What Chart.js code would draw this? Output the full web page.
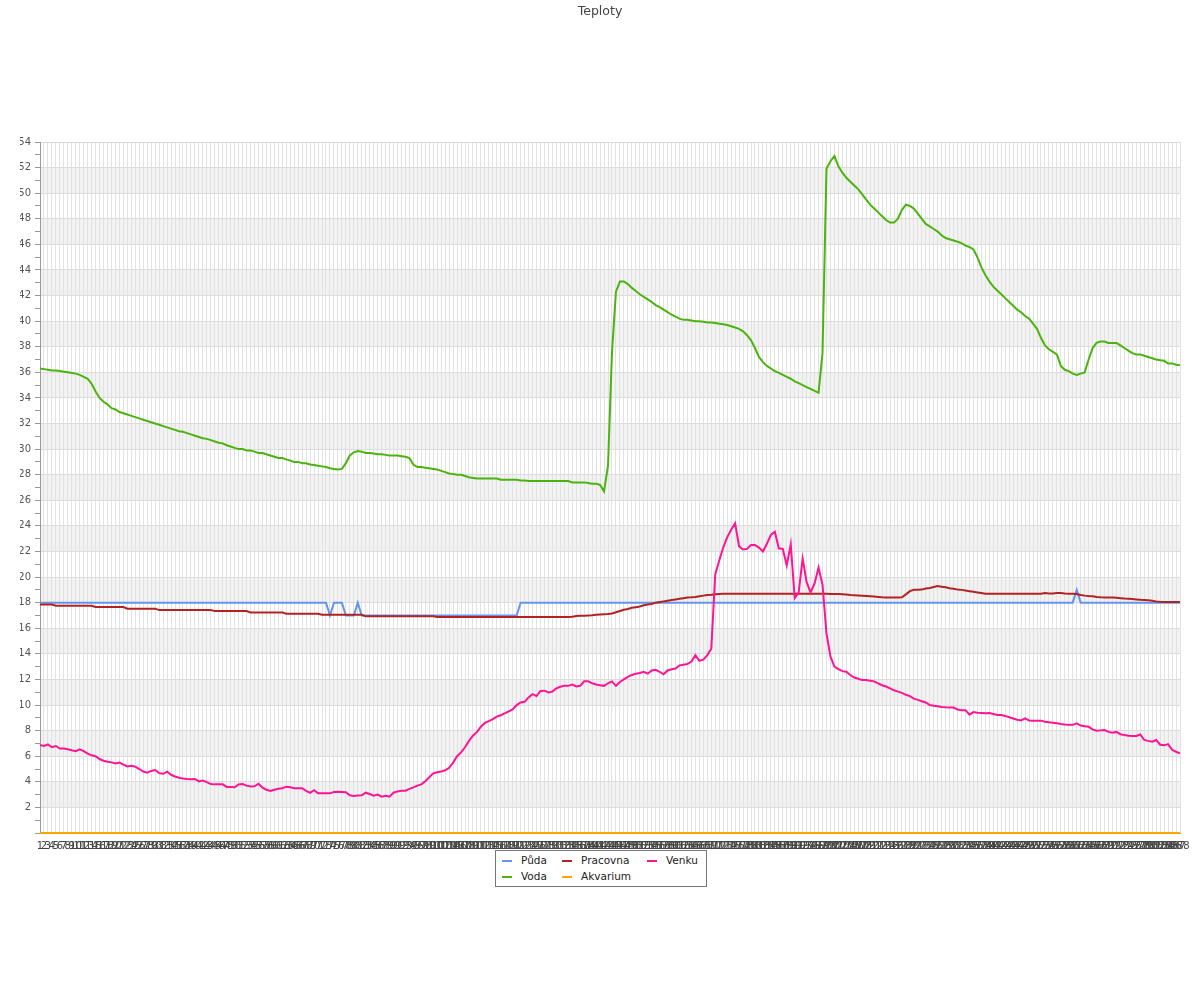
<!DOCTYPE html>
<html>
<head>
<meta charset="utf-8">
<title>Teploty</title>
<script src="https://cdn.jsdelivr.net/npm/chart.js@4.4.1/dist/chart.umd.min.js"></script>
<style>
  body { margin: 0; background: #fff; font-family: "DejaVu Sans", sans-serif; }
  #wrap { position: relative; width: 1200px; height: 1000px; }
  #legend { position: absolute; left: 495px; top: 850px; width: 210px; height: 35px;
            border: 1px solid #777; background: #fff; font-size: 10.5px; color: #222; }
  .item { position: absolute; white-space: nowrap; line-height: 14px; }
  .item i { display: inline-block; width: 10px; height: 2px; vertical-align: middle; margin-right: 9px; }
</style>
</head>
<body>
<div id="wrap">
  <canvas id="chart" width="1200" height="1000"></canvas>
  <div id="legend"></div>
</div>
<script>
// casove body 1..288 (5 min kroky)
const categories = Array.from({ length: 288 }, (_, i) => String(i + 1));

const puda = [
  18,18,18,18,18,18,18,18,18,18, 18,18,18,18,18,18,18,18,18,18,
  18,18,18,18,18,18,18,18,18,18, 18,18,18,18,18,18,18,18,18,18,
  18,18,18,18,18,18,18,18,18,18, 18,18,18,18,18,18,18,18,18,18,
  18,18,18,18,18,18,18,18,18,18, 18,18,18,17,18,18,18,17,17,17,
  18,17,17,17,17,17,17,17,17,17, 17,17,17,17,17,17,17,17,17,17,
  17,17,17,17,17,17,17,17,17,17, 17,17,17,17,17,17,17,17,17,17,
  17,18,18,18,18,18,18,18,18,18, 18,18,18,18,18,18,18,18,18,18,
  18,18,18,18,18,18,18,18,18,18, 18,18,18,18,18,18,18,18,18,18,
  18,18,18,18,18,18,18,18,18,18, 18,18,18,18,18,18,18,18,18,18,
  18,18,18,18,18,18,18,18,18,18, 18,18,18,18,18,18,18,18,18,18,
  18,18,18,18,18,18,18,18,18,18, 18,18,18,18,18,18,18,18,18,18,
  18,18,18,18,18,18,18,18,18,18, 18,18,18,18,18,18,18,18,18,18,
  18,18,18,18,18,18,18,18,18,18, 18,18,18,18,18,18,18,18,18,18,
  18,19,18,18,18,18,18,18,18,18, 18,18,18,18,18,18,18,18,18,18,
  18,18,18,18,18,18,18,18
];

const voda = [
  36.3,36.25,36.2,36.15,36.15,36.1,36.05,36.0,35.95,35.9,
  35.8,35.65,35.5,35.1,34.5,34.0,33.7,33.5,33.2,33.1,
  32.9,32.8,32.7,32.6,32.5,32.4,32.3,32.2,32.1,32.0,
  31.9,31.8,31.7,31.6,31.5,31.4,31.35,31.25,31.15,31.05,
  30.95,30.85,30.8,30.7,30.6,30.5,30.45,30.3,30.2,30.1,
  30.0,30.0,29.9,29.9,29.8,29.7,29.7,29.6,29.5,29.4,
  29.3,29.3,29.2,29.1,29.0,29.0,28.9,28.9,28.8,28.75,
  28.7,28.65,28.6,28.5,28.45,28.4,28.45,28.9,29.5,29.75,
  29.85,29.8,29.7,29.7,29.65,29.6,29.6,29.55,29.5,29.5,
  29.5,29.45,29.4,29.3,28.8,28.6,28.6,28.55,28.5,28.45,
  28.4,28.3,28.2,28.1,28.05,28.0,28.0,27.9,27.8,27.75,
  27.7,27.7,27.7,27.7,27.7,27.7,27.6,27.6,27.6,27.6,
  27.6,27.55,27.55,27.5,27.5,27.5,27.5,27.5,27.5,27.5,
  27.5,27.5,27.5,27.5,27.4,27.4,27.4,27.4,27.35,27.3,
  27.3,27.2,26.7,28.7,37.6,42.3,43.1,43.1,42.9,42.6,
  42.35,42.1,41.9,41.7,41.5,41.25,41.1,40.9,40.7,40.5,
  40.35,40.2,40.1,40.1,40.05,40.0,40.0,39.95,39.9,39.9,
  39.85,39.8,39.75,39.7,39.6,39.5,39.4,39.2,38.9,38.5,
  37.9,37.2,36.8,36.5,36.3,36.1,35.95,35.8,35.65,35.5,
  35.3,35.15,35.0,34.85,34.7,34.55,34.4,37.5,51.9,52.5,
  52.9,52.1,51.6,51.2,50.9,50.6,50.3,49.9,49.5,49.1,
  48.8,48.5,48.2,47.9,47.7,47.7,48.0,48.7,49.1,49.0,
  48.8,48.4,48.0,47.6,47.4,47.2,47.0,46.7,46.5,46.4,
  46.3,46.2,46.1,45.9,45.8,45.6,45.0,44.2,43.6,43.1,
  42.7,42.4,42.1,41.8,41.5,41.2,40.9,40.7,40.4,40.2,
  39.8,39.4,38.7,38.1,37.8,37.6,37.4,36.5,36.2,36.1,
  35.9,35.8,35.9,36.0,37.0,37.9,38.3,38.4,38.4,38.3,
  38.3,38.3,38.1,37.9,37.7,37.5,37.4,37.4,37.3,37.2,
  37.1,37.0,36.95,36.9,36.7,36.7,36.6,36.55
];

const pracovna = [
  17.86,17.86,17.86,17.86,17.76,17.76,17.76,17.76,17.76,17.76,
  17.76,17.76,17.76,17.76,17.66,17.66,17.66,17.66,17.66,17.66,
  17.66,17.66,17.53,17.53,17.53,17.53,17.53,17.53,17.53,17.53,
  17.42,17.42,17.42,17.42,17.42,17.42,17.42,17.42,17.42,17.42,
  17.42,17.42,17.42,17.42,17.34,17.34,17.34,17.34,17.34,17.34,
  17.34,17.34,17.34,17.24,17.24,17.24,17.24,17.24,17.24,17.24,
  17.24,17.24,17.13,17.13,17.13,17.13,17.13,17.13,17.13,17.13,
  17.13,17.05,17.05,17.05,17.05,17.05,17.05,17.05,17.05,17.05,
  17.05,17.05,16.93,16.93,16.93,16.93,16.93,16.93,16.93,16.93,
  16.93,16.93,16.93,16.93,16.93,16.93,16.93,16.93,16.93,16.93,
  16.88,16.88,16.88,16.88,16.88,16.88,16.88,16.88,16.88,16.88,
  16.88,16.88,16.88,16.88,16.88,16.88,16.88,16.88,16.88,16.88,
  16.88,16.88,16.88,16.88,16.88,16.88,16.88,16.88,16.88,16.88,
  16.88,16.88,16.88,16.88,16.9,16.95,16.97,16.98,17.0,17.02,
  17.05,17.08,17.1,17.12,17.15,17.25,17.35,17.45,17.5,17.6,
  17.65,17.7,17.8,17.85,17.9,18.0,18.05,18.1,18.15,18.2,
  18.25,18.3,18.35,18.4,18.42,18.45,18.5,18.55,18.6,18.62,
  18.65,18.68,18.7,18.7,18.7,18.7,18.7,18.7,18.7,18.7,
  18.7,18.7,18.7,18.7,18.7,18.7,18.7,18.7,18.7,18.7,
  18.7,18.7,18.7,18.7,18.7,18.7,18.7,18.7,18.7,18.67,
  18.67,18.67,18.65,18.63,18.6,18.58,18.56,18.54,18.52,18.5,
  18.48,18.45,18.42,18.4,18.4,18.4,18.4,18.42,18.65,18.9,
  19.0,19.0,19.02,19.1,19.15,19.22,19.3,19.25,19.2,19.12,
  19.08,19.02,19.0,18.95,18.9,18.85,18.8,18.75,18.7,18.7,
  18.7,18.7,18.7,18.7,18.7,18.7,18.7,18.7,18.7,18.7,
  18.7,18.7,18.7,18.75,18.72,18.72,18.75,18.75,18.72,18.7,
  18.7,18.67,18.6,18.55,18.52,18.5,18.45,18.42,18.4,18.4,
  18.4,18.38,18.35,18.32,18.3,18.28,18.25,18.22,18.2,18.18,
  18.15,18.1,18.07,18.05,18.05,18.05,18.05,18.05
];

const akvarium = [
  0,0,0,0,0,0,0,0,0,0, 0,0,0,0,0,0,0,0,0,0, 0,0,0,0,0,0,0,0,0,0,
  0,0,0,0,0,0,0,0,0,0, 0,0,0,0,0,0,0,0,0,0, 0,0,0,0,0,0,0,0,0,0,
  0,0,0,0,0,0,0,0,0,0, 0,0,0,0,0,0,0,0,0,0, 0,0,0,0,0,0,0,0,0,0,
  0,0,0,0,0,0,0,0,0,0, 0,0,0,0,0,0,0,0,0,0, 0,0,0,0,0,0,0,0,0,0,
  0,0,0,0,0,0,0,0,0,0, 0,0,0,0,0,0,0,0,0,0, 0,0,0,0,0,0,0,0,0,0,
  0,0,0,0,0,0,0,0,0,0, 0,0,0,0,0,0,0,0,0,0, 0,0,0,0,0,0,0,0,0,0,
  0,0,0,0,0,0,0,0,0,0, 0,0,0,0,0,0,0,0,0,0, 0,0,0,0,0,0,0,0,0,0,
  0,0,0,0,0,0,0,0,0,0, 0,0,0,0,0,0,0,0,0,0, 0,0,0,0,0,0,0,0,0,0,
  0,0,0,0,0,0,0,0,0,0, 0,0,0,0,0,0,0,0,0,0, 0,0,0,0,0,0,0,0,0,0,
  0,0,0,0,0,0,0,0,0,0, 0,0,0,0,0,0,0,0
];

const venku = [
  6.87,6.8,6.93,6.7,6.8,6.6,6.6,6.55,6.47,6.4,
  6.54,6.4,6.2,6.07,6.0,5.78,5.65,5.57,5.52,5.44,
  5.5,5.35,5.2,5.25,5.18,5.0,4.8,4.72,4.85,4.92,
  4.68,4.63,4.8,4.55,4.42,4.32,4.25,4.22,4.2,4.22,
  4.03,4.1,3.97,3.82,3.8,3.8,3.8,3.6,3.6,3.57,
  3.8,3.82,3.7,3.63,3.65,3.85,3.55,3.38,3.28,3.38,
  3.45,3.5,3.62,3.57,3.5,3.5,3.5,3.3,3.14,3.35,
  3.1,3.1,3.1,3.1,3.2,3.22,3.2,3.18,2.95,2.9,
  2.93,2.95,3.15,3.05,2.92,3.0,2.84,2.9,2.84,3.15,
  3.25,3.3,3.3,3.45,3.57,3.7,3.8,4.05,4.35,4.66,
  4.75,4.8,4.9,5.1,5.5,6.0,6.3,6.7,7.2,7.6,
  7.9,8.3,8.6,8.75,8.9,9.1,9.2,9.35,9.5,9.65,
  10.0,10.2,10.25,10.6,10.85,10.7,11.1,11.12,10.98,11.05,
  11.3,11.43,11.5,11.5,11.6,11.45,11.5,11.85,11.85,11.7,
  11.6,11.55,11.5,11.7,11.85,11.5,11.8,12.0,12.2,12.35,
  12.45,12.5,12.6,12.45,12.7,12.75,12.6,12.4,12.7,12.8,
  12.85,13.1,13.15,13.2,13.4,13.9,13.45,13.55,13.9,14.4,
  20.2,21.3,22.3,23.1,23.7,24.2,22.4,22.15,22.2,22.5,
  22.5,22.3,22.0,22.6,23.3,23.55,22.25,22.2,20.9,22.55,
  18.35,18.8,21.45,19.6,18.8,19.5,20.75,19.4,15.6,13.8,
  13.0,12.8,12.65,12.6,12.35,12.15,12.05,11.95,11.95,11.9,
  11.85,11.7,11.55,11.45,11.3,11.15,11.05,10.95,10.8,10.7,
  10.5,10.4,10.3,10.2,10.0,9.95,9.9,9.85,9.82,9.8,
  9.8,9.65,9.6,9.6,9.25,9.45,9.4,9.38,9.35,9.38,
  9.3,9.22,9.22,9.15,9.05,8.95,8.85,8.8,8.96,8.8,
  8.78,8.78,8.78,8.7,8.65,8.62,8.58,8.52,8.48,8.45,
  8.45,8.57,8.4,8.35,8.3,8.1,8.0,8.02,8.04,7.9,
  7.84,7.9,7.72,7.65,7.6,7.58,7.58,7.7,7.27,7.2,
  7.14,7.27,6.9,6.85,6.95,6.5,6.35,6.22
];

const yMin = 0;
const yMax = 54;

const series = [
  { name: 'Půda',     data: puda,     color: '#6495ed' },
  { name: 'Voda',     data: voda,     color: '#4cb30e' },
  { name: 'Pracovna', data: pracovna, color: '#b22222' },
  { name: 'Akvarium', data: akvarium, color: '#ffa500' },
  { name: 'Venku',    data: venku,    color: '#ff1493' }
];

// sede pruhy pozadi (kazdy druhy pas po 2 stupnich)
const bands = {
  id: 'bands',
  beforeDraw(chart) {
    const { ctx, chartArea: a, scales: { y } } = chart;
    ctx.save();
    ctx.fillStyle = '#f2f2f2';
    for (let v = 2; v < yMax; v += 4) {
      const top = y.getPixelForValue(v + 2);
      const bot = y.getPixelForValue(v);
      ctx.fillRect(a.left, top, a.right - a.left, bot - top);
    }
    ctx.restore();
  }
};

const font = '"DejaVu Sans", sans-serif';

new Chart(document.getElementById('chart'), {
  type: 'line',
  data: {
    labels: categories,
    datasets: series.map((s, i) => ({
      label: s.name,
      data: s.data,
      borderColor: s.color,
      backgroundColor: s.color,
      borderWidth: 2,
      pointRadius: 0,
      tension: 0,
      clip: false,
      order: series.length - i
    }))
  },
  options: {
    responsive: false,
    animation: false,
    devicePixelRatio: 1,
    layout: { padding: { left: 20, right: 20, top: 0, bottom: 141 } },
    plugins: {
      legend: { display: false },
      tooltip: { enabled: false },
      title: {
        display: true,
        text: 'Teploty',
        color: '#444',
        font: { family: font, size: 12.5, weight: 'normal' },
        padding: { top: 4, bottom: 123 }
      }
    },
    scales: {
      x: {
        grid: { color: '#e2e2e2', drawTicks: false },
        border: { color: '#999' },
        ticks: {
          autoSkip: false, maxRotation: 0, minRotation: 0, padding: 7,
          color: '#444', font: { family: font, size: 10 }
        }
      },
      y: {
        min: yMin, max: yMax,
        afterFit(scale) { scale.width = 20; },
        grid: {
          color: c => (c.tick && c.tick.value % 2 === 0) ? '#dcdcdc' : 'rgba(0,0,0,0)',
          tickColor: '#999',
          tickLength: 5
        },
        border: { color: '#999' },
        ticks: {
          stepSize: 1, autoSkip: false, padding: 4,
          color: '#555', font: { family: font, size: 10 },
          callback: v => (v % 2 === 0 && v > 0) ? String(v) : ''
        }
      }
    }
  },
  plugins: [bands]
});

// legenda ve trech sloupcich
const legend = document.getElementById('legend');
const cols = [6, 66, 151];
series.forEach((s, i) => {
  const el = document.createElement('div');
  el.className = 'item';
  el.style.left = cols[Math.floor(i / 2)] + 'px';
  el.style.top = (i % 2 === 0 ? 2 : 18) + 'px';
  el.innerHTML = '<i style="background:' + s.color + '"></i>' + s.name;
  legend.appendChild(el);
});
</script>
</body>
</html>
